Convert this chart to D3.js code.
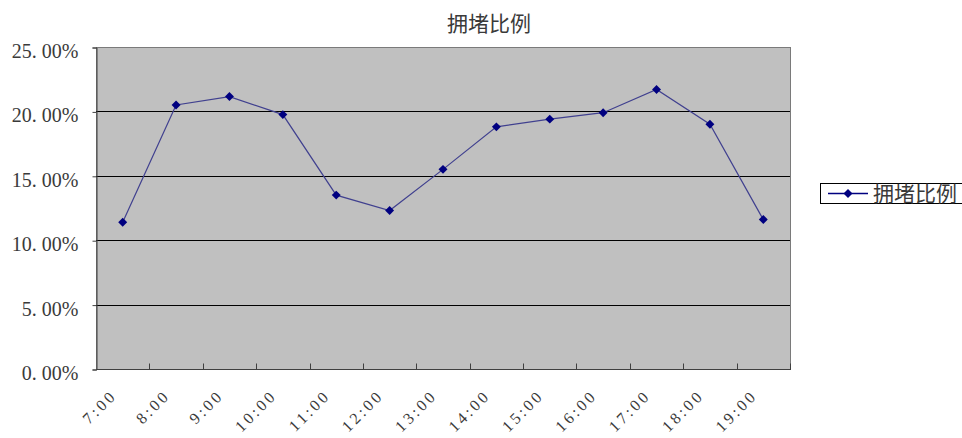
<!DOCTYPE html>
<html>
<head>
<meta charset="utf-8">
<script src="https://cdn.jsdelivr.net/npm/d3@7/dist/d3.min.js"></script>
<style>
  html, body { margin: 0; padding: 0; background: #fff; }
  svg { display: block; }
</style>
</head>
<body>
<svg id="chart" width="962" height="438"></svg>
<script>
// Hourly congestion ratio
const categories = ["7:00", "8:00", "9:00", "10:00", "11:00", "12:00", "13:00",
                    "14:00", "15:00", "16:00", "17:00", "18:00", "19:00"];
const congestion = [11.4, 20.5, 21.15, 19.75, 13.5, 12.3, 15.5,
                    18.8, 19.4, 19.9, 21.7, 19.0, 11.6];
const yTicks = [0, 5, 10, 15, 20, 25];
const seriesName = "拥堵比例";
const titleText = "拥堵比例";

const svg = d3.select("#chart");
const plot = { left: 96, right: 790, top: 47, bottom: 369 };
const serif = "'Liberation Serif', 'DejaVu Serif', serif";
const cjk = "'Noto Sans CJK SC', sans-serif";
const textColor = "#3a3a3a";

const x = d3.scaleBand().domain(categories).range([plot.left, plot.right]);
const y = d3.scaleLinear().domain([0, 25]).range([plot.bottom, plot.top]);
const cx = c => x(c) + x.bandwidth() / 2;

// plot background
svg.append("rect")
  .attr("x", plot.left + 0.5).attr("y", plot.top + 0.5)
  .attr("width", plot.right - plot.left).attr("height", plot.bottom - plot.top)
  .attr("fill", "#c0c0c0").attr("stroke", "#7a7a7a").attr("stroke-width", 1);

// horizontal gridlines
svg.append("g").selectAll("line")
  .data(yTicks.filter(t => t > 0 && t < 25))
  .join("line")
  .attr("x1", plot.left).attr("x2", plot.right)
  .attr("y1", d => Math.round(y(d)) + 0.5).attr("y2", d => Math.round(y(d)) + 0.5)
  .attr("stroke", "#000").attr("stroke-width", 1);

// y axis
const yAxis = svg.append("g")
  .attr("transform", `translate(${plot.left + 0.5},0.5)`)
  .call(d3.axisLeft(y).tickValues(yTicks).tickSize(4).tickPadding(14)
        .tickFormat(d => d3.format(".2f")(d).replace(".", ". ") + "%"));
yAxis.select(".domain").attr("stroke", "#404040");
yAxis.selectAll(".tick line").attr("stroke", "#404040");
yAxis.selectAll("text")
  .attr("dy", "0.5em")
  .attr("font-family", serif).attr("font-size", 20).attr("fill", textColor);

// x axis: ticks at category boundaries, pointing into the plot
const xAxisG = svg.append("g").attr("transform", `translate(0,${plot.bottom + 0.5})`);
xAxisG.append("line")
  .attr("x1", plot.left).attr("x2", plot.right + 1)
  .attr("stroke", "#404040");
xAxisG.selectAll("line.tick")
  .data(categories)
  .join("line")
  .attr("class", "tick")
  .attr("x1", d => Math.round(x(d) + x.bandwidth()) + 0.5)
  .attr("x2", d => Math.round(x(d) + x.bandwidth()) + 0.5)
  .attr("y1", 0).attr("y2", -6)
  .attr("stroke", "#404040");
xAxisG.selectAll("text")
  .data(categories)
  .join("text")
  .attr("transform", d => `translate(${cx(d) - 5},${27}) rotate(-45)`)
  .attr("text-anchor", "end")
  .attr("letter-spacing", 3)
  .attr("font-family", serif).attr("font-size", 16).attr("fill", textColor)
  .text(d => d);

// series line
const line = d3.line()
  .x((d, i) => cx(categories[i]))
  .y(d => y(d));
svg.append("path")
  .datum(congestion)
  .attr("d", line)
  .attr("fill", "none").attr("stroke", "#40408f").attr("stroke-width", 1.2);

// diamond markers (squares turned 45°)
const diamond = d3.symbol().type(d3.symbolSquare).size(40);
svg.append("g").selectAll("path")
  .data(congestion)
  .join("path")
  .attr("transform", (d, i) => `translate(${cx(categories[i])},${y(d)}) rotate(45)`)
  .attr("d", diamond)
  .attr("fill", "#000080");

// title
svg.append("text")
  .attr("x", 489).attr("y", 31)
  .attr("text-anchor", "middle")
  .attr("font-family", cjk).attr("font-size", 21).attr("fill", textColor)
  .text(titleText);

// legend
const lg = svg.append("g").attr("transform", "translate(820,183)");
lg.append("rect").attr("x", 0.5).attr("y", 0.5).attr("width", 150).attr("height", 20)
  .attr("fill", "#fff").attr("stroke", "#000");
lg.append("line").attr("x1", 8).attr("x2", 48).attr("y1", 10.5).attr("y2", 10.5)
  .attr("stroke", "#000080").attr("stroke-width", 1.5);
lg.append("path").attr("transform", "translate(28,10.5) rotate(45)").attr("d", diamond).attr("fill", "#000080");
lg.append("text").attr("x", 53).attr("y", 18)
  .attr("font-family", cjk).attr("font-size", 21).attr("fill", textColor)
  .text(seriesName);
</script>
</body>
</html>
